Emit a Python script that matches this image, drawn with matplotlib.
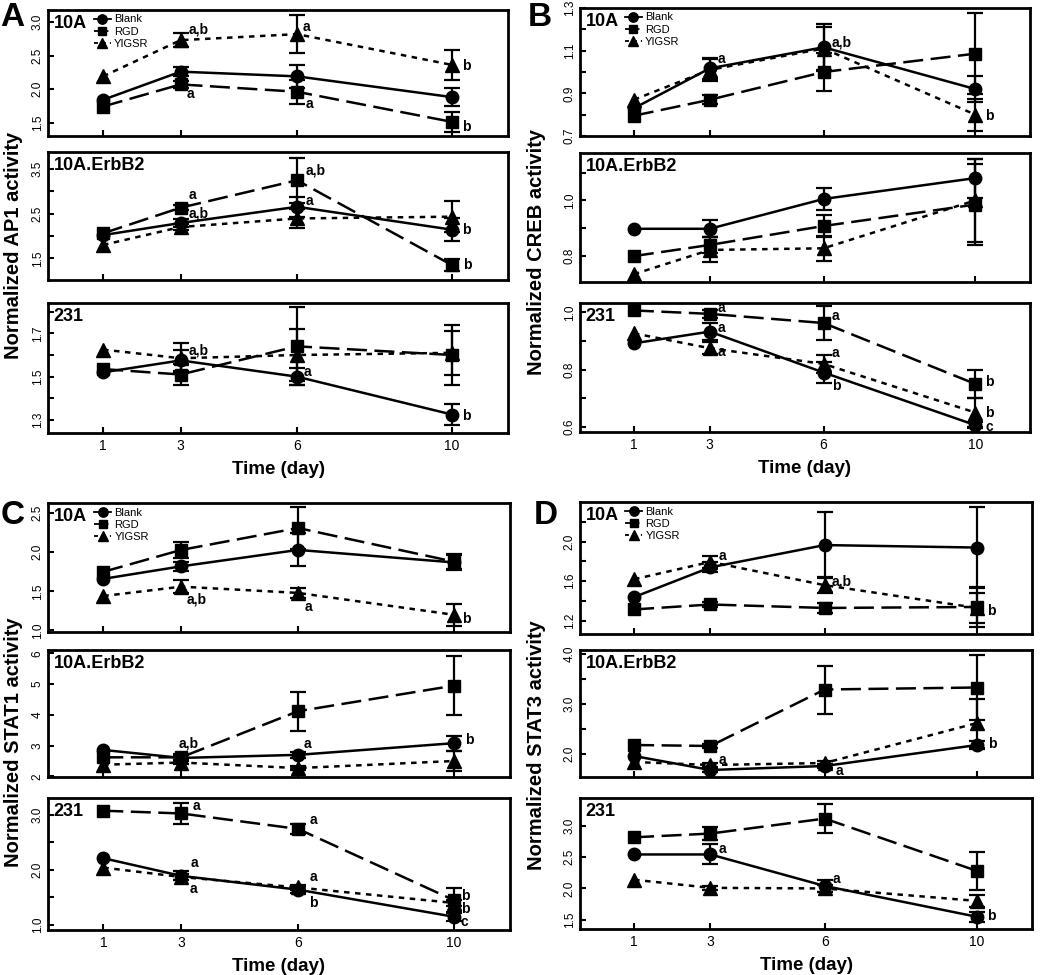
import matplotlib
matplotlib.use("Agg")
import matplotlib.pyplot as plt
from matplotlib.ticker import FixedLocator, NullFormatter
from matplotlib.lines import Line2D

plt.rcParams['font.family'] = ['Liberation Sans', 'DejaVu Sans']

W, H = 1050, 975
fig = plt.figure(figsize=(W / 100, H / 100), dpi=100)

DAYS = [1, 3, 6, 10]
TREATMENTS = ["Blank", "RGD", "YIGSR"]
CELL_LINES = ["10A", "10A.ErbB2", "231"]

# ---------------- Panel A : AP1 ----------------
AP1_10A = {"Blank": [1.84, 2.26, 2.19, 1.88], "RGD": [1.74, 2.07, 1.96, 1.51], "YIGSR": [2.19, 2.73, 2.82, 2.36]}
AP1_10A_ERR = {"Blank": [0, 0.07, 0.17, 0.13], "RGD": [0, 0.05, 0.18, 0.15], "YIGSR": [0, 0.10, 0.28, 0.23]}
AP1_ERBB2 = {"Blank": [2.02, 2.29, 2.65, 2.14], "RGD": [2.06, 2.63, 3.24, 1.35], "YIGSR": [1.80, 2.20, 2.39, 2.43]}
AP1_ERBB2_ERR = {"Blank": [0, 0.08, 0.22, 0.25], "RGD": [0, 0.05, 0.50, 0.14], "YIGSR": [0, 0.06, 0.22, 0.35]}
AP1_231 = {"Blank": [1.52, 1.575, 1.50, 1.325], "RGD": [1.535, 1.51, 1.64, 1.60], "YIGSR": [1.625, 1.585, 1.60, 1.61]}
AP1_231_ERR = {"Blank": [0, 0.05, 0.04, 0.05], "RGD": [0, 0.05, 0.18, 0.14], "YIGSR": [0, 0.07, 0.12, 0.10]}

# ---------------- Panel B : CREB ----------------
CREB_10A = {"Blank": [0.83, 1.017, 1.116, 0.92], "RGD": [0.795, 0.87, 1.00, 1.086], "YIGSR": [0.87, 1.01, 1.11, 0.80]}
CREB_10A_ERR = {"Blank": [0, 0.05, 0.11, 0.06], "RGD": [0, 0.02, 0.09, 0.19], "YIGSR": [0, 0.05, 0.10, 0.075]}
CREB_ERBB2 = {"Blank": [0.898, 0.898, 1.005, 1.08], "RGD": [0.80, 0.84, 0.908, 0.985], "YIGSR": [0.735, 0.822, 0.828, 1.00]}
CREB_ERBB2_ERR = {"Blank": [0, 0.03, 0.04, 0.07], "RGD": [0, 0.03, 0.04, 0.145], "YIGSR": [0, 0.045, 0.045, 0.15]}
CREB_231 = {"Blank": [0.892, 0.933, 0.79, 0.606], "RGD": [1.007, 0.995, 0.963, 0.75], "YIGSR": [0.927, 0.875, 0.82, 0.65]}
CREB_231_ERR = {"Blank": [0, 0.03, 0.035, 0.01], "RGD": [0, 0.015, 0.06, 0.05], "YIGSR": [0, 0.02, 0.03, 0.05]}

# ---------------- Panel C : STAT1 ----------------
STAT1_10A = {"Blank": [1.66, 1.82, 2.03, 1.87], "RGD": [1.75, 2.03, 2.31, 1.88], "YIGSR": [1.44, 1.56, 1.48, 1.20]}
STAT1_10A_ERR = {"Blank": [0, 0.06, 0.21, 0.10], "RGD": [0, 0.10, 0.27, 0.10], "YIGSR": [0, 0.08, 0.06, 0.14]}
STAT1_ERBB2 = {"Blank": [2.86, 2.60, 2.70, 3.08], "RGD": [2.62, 2.62, 4.12, 4.95], "YIGSR": [2.38, 2.45, 2.27, 2.50]}
STAT1_ERBB2_ERR = {"Blank": [0, 0.08, 0.10, 0.24], "RGD": [0, 0.10, 0.63, 0.95], "YIGSR": [0, 0.06, 0.06, 0.33]}
STAT1_231 = {"Blank": [2.21, 1.89, 1.64, 1.15], "RGD": [3.07, 3.02, 2.74, 1.45], "YIGSR": [2.04, 1.87, 1.68, 1.40]}
STAT1_231_ERR = {"Blank": [0, 0.08, 0.06, 0.07], "RGD": [0, 0.19, 0.09, 0.22], "YIGSR": [0, 0.06, 0.05, 0.06]}

# ---------------- Panel D : STAT3 ----------------
STAT3_10A = {"Blank": [1.44, 1.74, 1.965, 1.94], "RGD": [1.315, 1.365, 1.33, 1.34], "YIGSR": [1.62, 1.795, 1.56, 1.33]}
STAT3_10A_ERR = {"Blank": [0, 0.05, 0.33, 0.41], "RGD": [0, 0.03, 0.05, 0.20], "YIGSR": [0, 0.06, 0.08, 0.15]}
STAT3_ERBB2 = {"Blank": [1.95, 1.67, 1.75, 2.17], "RGD": [2.17, 2.15, 3.28, 3.32], "YIGSR": [1.83, 1.77, 1.81, 2.61]}
STAT3_ERBB2_ERR = {"Blank": [0, 0.03, 0.04, 0.08], "RGD": [0, 0.04, 0.48, 0.65], "YIGSR": [0, 0.04, 0.04, 0.49]}
STAT3_231 = {"Blank": [2.545, 2.545, 2.04, 1.545], "RGD": [2.82, 2.88, 3.12, 2.28], "YIGSR": [2.14, 2.01, 2.00, 1.80]}
STAT3_231_ERR = {"Blank": [0, 0.16, 0.10, 0.08], "RGD": [0, 0.10, 0.23, 0.31], "YIGSR": [0, 0.03, 0.05, 0.10]}

# ---------------- significance letters: (day, y, text, dx_pt) ----------------
LET_AP1_10A = [(3, 2.89, "a,b", 6), (6, 2.93, "a", 4), (10, 2.35, "b", 7), (3, 1.92, "a", 4), (6, 1.78, "a", 6), (10, 1.44, "b", 7)]
LET_AP1_ERBB2 = [(3, 2.91, "a", 6), (3, 2.50, "a,b", 6), (6, 3.46, "a,b", 6), (6, 2.78, "a", 6), (10, 2.14, "b", 7), (10, 1.35, "b", 8)]
LET_AP1_231 = [(3, 1.62, "a,b", 6), (6, 1.52, "a", 5), (10, 1.32, "b", 7)]
LET_CREB_10A = [(3, 1.06, "a", 6), (6, 1.137, "a,b", 6), (10, 0.795, "b", 7)]
LET_CREB_ERBB2 = []
LET_CREB_231 = [(3, 1.015, "a", 6), (3, 0.945, "a", 6), (3, 0.863, "a", 6), (6, 0.986, "a", 6), (6, 0.857, "a", 6),
                (6, 0.743, "b", 6), (10, 0.756, "b", 7), (10, 0.648, "b", 7), (10, 0.598, "c", 7)]
LET_STAT1_10A = [(3, 1.39, "a,b", 4), (6, 1.30, "a", 5), (10, 1.15, "b", 6)]
LET_STAT1_ERBB2 = [(3, 3.08, "a,b", -2), (6, 3.06, "a", 4), (10, 3.19, "b", 8)]
LET_STAT1_231 = [(3, 3.15, "a", 8), (6, 2.90, "a", 8), (3, 2.12, "a", 7), (3, 1.65, "a", 6), (6, 1.87, "a", 8),
                 (6, 1.39, "b", 8), (10, 1.52, "b", 5), (10, 1.29, "b", 5), (10, 1.06, "c", 5)]
LET_STAT3_10A = [(3, 1.857, "a", 6), (6, 1.60, "a,b", 5), (10, 1.30, "b", 7)]
LET_STAT3_ERBB2 = [(3, 1.88, "a", 6), (6, 1.65, "a", 8), (10, 2.20, "b", 8)]
LET_STAT3_231 = [(3, 2.64, "a", 6), (6, 2.155, "a", 6), (10, 1.56, "b", 7)]

# ---------------- axis tick definitions ----------------
PANELS = [
    dict(letter="A", ylabel="Normalized AP1 activity",
         data=[(AP1_10A, AP1_10A_ERR, LET_AP1_10A), (AP1_ERBB2, AP1_ERBB2_ERR, LET_AP1_ERBB2), (AP1_231, AP1_231_ERR, LET_AP1_231)],
         ylims=[(1.30, 3.18), (1.02, 3.87), (1.24, 1.84)],
         major=[[1.5, 2.0, 2.5, 3.0], [1.5, 2.5, 3.5], [1.3, 1.5, 1.7]],
         minor=[[], [2.0, 3.0], [1.4, 1.6, 1.8]],
         fmt="{:.1f}",
         boxes=[(48, 10, 508, 136), (48, 152, 508, 280), (48, 303, 508, 433)],
         letter_xy=(12, 18), ylabel_xy=(14, 245)),
    dict(letter="B", ylabel="Normalized CREB activity",
         data=[(CREB_10A, CREB_10A_ERR, LET_CREB_10A), (CREB_ERBB2, CREB_ERBB2_ERR, LET_CREB_ERBB2), (CREB_231, CREB_231_ERR, LET_CREB_231)],
         ylims=[(0.70, 1.30), (0.707, 1.17), (0.582, 1.033)],
         major=[[0.7, 0.9, 1.1, 1.3], [0.8, 1.0], [0.6, 0.8, 1.0]],
         minor=[[0.8, 1.0, 1.2], [0.9, 1.1], [0.7, 0.9]],
         fmt="{:.1f}",
         boxes=[(580, 8, 1030, 136), (580, 153, 1030, 282), (580, 303, 1030, 432)],
         letter_xy=(540, 17), ylabel_xy=(537, 252)),
    dict(letter="C", ylabel="Normalized STAT1 activity",
         data=[(STAT1_10A, STAT1_10A_ERR, LET_STAT1_10A), (STAT1_ERBB2, STAT1_ERBB2_ERR, LET_STAT1_ERBB2), (STAT1_231, STAT1_231_ERR, LET_STAT1_231)],
         ylims=[(0.98, 2.63), (1.98, 6.11), (0.91, 3.30)],
         major=[[1.0, 1.5, 2.0, 2.5], [2, 3, 4, 5, 6], [1.0, 2.0, 3.0]],
         minor=[[], [], [1.5, 2.5]],
         fmt=["{:.1f}", "{:.0f}", "{:.1f}"],
         boxes=[(48, 503, 510, 632), (48, 650, 510, 777), (48, 798, 510, 930)],
         letter_xy=(13, 515), ylabel_xy=(14, 742)),
    dict(letter="D", ylabel="Normalized STAT3 activity",
         data=[(STAT3_10A, STAT3_10A_ERR, LET_STAT3_10A), (STAT3_ERBB2, STAT3_ERBB2_ERR, LET_STAT3_ERBB2), (STAT3_231, STAT3_231_ERR, LET_STAT3_231)],
         ylims=[(1.067, 2.40), (1.53, 4.07), (1.35, 3.45)],
         major=[[1.2, 1.6, 2.0], [2.0, 3.0, 4.0], [1.5, 2.0, 2.5, 3.0]],
         minor=[[1.4, 1.8, 2.2], [2.5, 3.5], []],
         fmt="{:.1f}",
         boxes=[(580, 502, 1032, 634), (580, 650, 1032, 777), (580, 798, 1032, 929)],
         letter_xy=(546, 515), ylabel_xy=(537, 745)),
]

STYLE = {
    "Blank": dict(marker="o", ls="-", ms=9),
    "RGD": dict(marker="s", ls=(0, (8, 3)), ms=8),
    "YIGSR": dict(marker="^", ls=(0, (2.2, 2.2)), ms=9.5),
}
LW = 1.8


def px_axes(x0, y0, x1, y1):
    return fig.add_axes([x0 / W, 1 - y1 / H, (x1 - x0) / W, (y1 - y0) / H])


for panel in PANELS:
    for i, (means, errs, letters) in enumerate(panel["data"]):
        ax = px_axes(*panel["boxes"][i])
        handles = []
        for t in TREATMENTS:
            st = STYLE[t]
            ax.plot(DAYS, means[t], color="k", lw=LW, ls=st["ls"], marker=st["marker"],
                    ms=st["ms"], zorder=3)
            idx = [k for k, e in enumerate(errs[t]) if e > 0]
            ax.errorbar([DAYS[k] for k in idx], [means[t][k] for k in idx],
                        yerr=[errs[t][k] for k in idx], fmt="none", ecolor="k",
                        elinewidth=1.6, capsize=5.5, capthick=1.6, zorder=2)
            handles.append(Line2D([], [], color="k", lw=1.3, ls=st["ls"], marker=st["marker"],
                                  ms=st["ms"] * 0.75))
        ax.set_xlim(-0.42, 11.44)
        ax.set_ylim(*panel["ylims"][i])
        ax.set_xticks(DAYS)
        if i == 2:
            ax.set_xticklabels([str(d) for d in DAYS], fontsize=10)
            ax.set_xlabel("Time (day)", fontsize=13.5, fontweight="bold", labelpad=6)
        else:
            ax.set_xticklabels([])
        fmt = panel["fmt"][i] if isinstance(panel["fmt"], list) else panel["fmt"]
        ax.set_yticks(panel["major"][i])
        ax.set_yticklabels([fmt.format(v) for v in panel["major"][i]], fontsize=8.5,
                           rotation=90, va="center")
        ax.yaxis.set_minor_locator(FixedLocator(panel["minor"][i]))
        ax.yaxis.set_minor_formatter(NullFormatter())
        ax.tick_params(axis="both", which="both", direction="in", length=4, width=1.5,
                       top=False, right=False)
        ax.tick_params(axis="y", which="both", pad=3)
        ax.tick_params(axis="x", which="both", pad=4)
        for sp in ax.spines.values():
            sp.set_linewidth(2)
        ax.text(0.012, 0.96, CELL_LINES[i], transform=ax.transAxes, ha="left", va="top",
                fontsize=13, fontweight="bold")
        for (d, y, txt, dx) in letters:
            ax.annotate(txt, (d, y), xytext=(dx, 0), textcoords="offset points",
                        ha="left", va="center", fontsize=10, fontweight="bold", zorder=5)
        if i == 0:
            ax.legend(handles, TREATMENTS, loc="upper left", bbox_to_anchor=(0.10, 0.965),
                      frameon=False, fontsize=8, handlelength=1.5, handletextpad=0.3,
                      labelspacing=0.2, borderpad=0, borderaxespad=0)
    lx, ly = panel["letter_xy"]
    fig.text(lx / W, 1 - ly / H, panel["letter"], fontsize=24, fontweight="bold",
             ha="center", va="center")
    yx, yy = panel["ylabel_xy"]
    fig.text(yx / W, 1 - yy / H, panel["ylabel"], fontsize=14.5, fontweight="bold",
             rotation=90, ha="center", va="center")

fig.savefig("out.png", dpi=100)
